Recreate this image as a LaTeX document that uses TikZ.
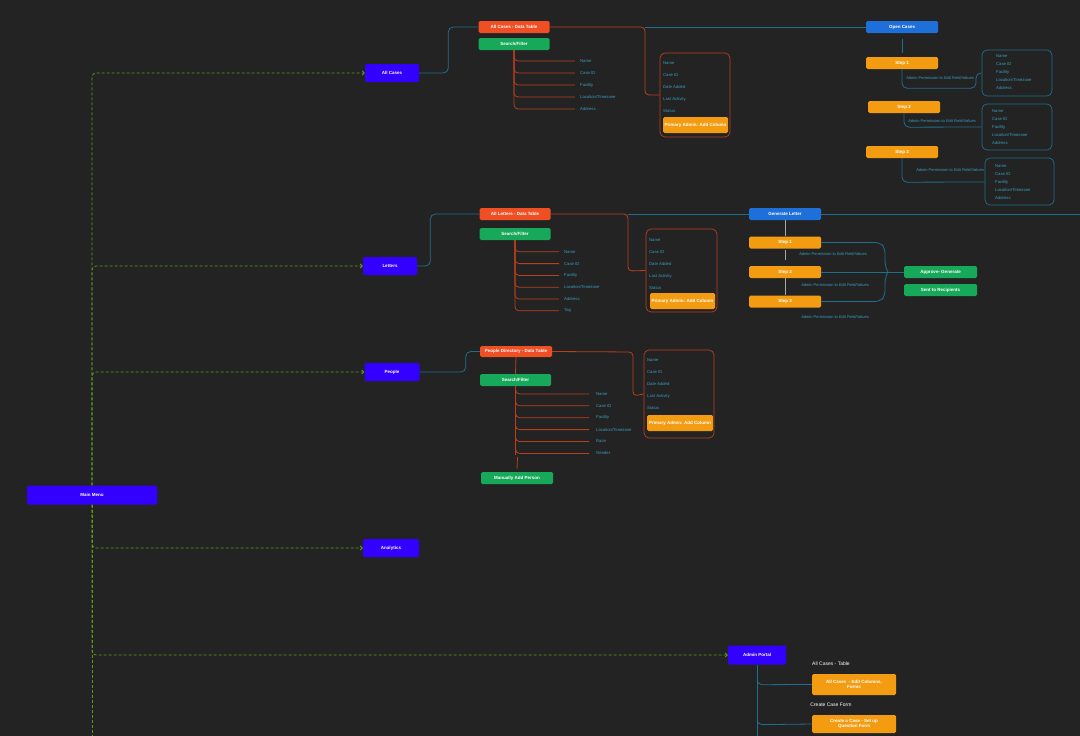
\documentclass[tikz,border=0pt]{standalone}
\usepackage{fontspec}
\setmainfont{Liberation Sans}
\usetikzlibrary{calc,arrows.meta}
\definecolor{bg}{HTML}{232323}
\definecolor{violet}{HTML}{3300FF}
\definecolor{redb}{HTML}{F04E23}
\definecolor{greenb}{HTML}{17A85A}
\definecolor{orangeb}{HTML}{F39C12}
\definecolor{blueb}{HTML}{1E6FD9}
\definecolor{teal}{HTML}{1F6F8B}
\definecolor{redl}{HTML}{B8401F}
\definecolor{itemc}{HTML}{3A9EC0}
\definecolor{gdash}{HTML}{5A9A20}
\tikzset{
 box/.style={rounded corners=1.5pt, inner sep=0pt, text=white, font=\fontsize{4.5}{5.5}\selectfont\bfseries, align=center},
 vbox/.style={box, fill=violet, minimum width=54, minimum height=18},
 rbox/.style={box, fill=redb, minimum width=71, minimum height=12},
 gbox/.style={box, fill=greenb, minimum width=71, minimum height=12},
 obox/.style={box, fill=orangeb, minimum width=72, minimum height=12},
 bbox/.style={box, fill=blueb, minimum width=72, minimum height=12},
 item/.style={text=itemc, font=\fontsize{4.2}{5}\selectfont, inner sep=0pt, anchor=west},
 lbl/.style={text=itemc, font=\fontsize{4}{5}\selectfont, inner sep=0pt},
 wlbl/.style={text=white, font=\fontsize{5}{6}\selectfont, inner sep=0pt},
 colbox/.style={draw=redl, rounded corners=5pt, line width=0.7pt},
 tbox/.style={draw=teal, rounded corners=5pt, line width=0.7pt},
 redline/.style={draw=redl, line width=0.8pt, rounded corners=4pt},
 tealline/.style={draw=teal, line width=0.8pt, rounded corners=5pt},
 gline/.style={draw=gdash, line width=0.8pt, dashed, dash pattern=on 3pt off 2pt, rounded corners=4pt},
}
\begin{document}
\begin{tikzpicture}[x=1pt,y=-1pt]
\fill[bg] (0,0) rectangle (1080,736);
\useasboundingbox (0,0) rectangle (1080,736);
% main menu
\node[vbox, minimum width=130, minimum height=19] (mm) at (92,495) {Main Menu};
\node[vbox] (ac) at (392,73) {All Cases};
\node[vbox] (lt) at (390,266) {Letters};
\node[vbox, minimum width=55] (pp) at (392,372) {People};
\node[vbox, minimum width=56] (an) at (391,548) {Analytics};
\node[vbox, minimum width=58, minimum height=19] (ap) at (757,655) {Admin Portal};
\coordinate (mmend) at (92,736);
\foreach \t in {ac,lt,pp}{\draw[gline,-{Straight Barb[length=2pt]}] (mm.north) |- (\t.west);}
\foreach \t in {an,ap}{\draw[gline,-{Straight Barb[length=2pt]}] (mm.south) |- (\t.west);}
\draw[gline] (mm.south) -- (mmend);

% ---- All cases
\node[rbox] (acdt) at (514,27) {All Cases - Data Table};
\node[gbox] (acsf) at (514,44) {Search/Filter};
\draw[tealline] (ac.east) -| ($(acdt.west)+(-30,0)$) -- (acdt.west);
\foreach \t [count=\i] in {Name,Case ID,Facility,Location/Timezone,Address}{
 \node[item] (acf\i) at (580,49+12*\i) {\t};
 \draw[redline] (acsf.south) |- ($(acf\i.west)+(-5,0)$);}
\node[colbox, minimum width=70, minimum height=84, inner sep=0pt] (acbox) at (695,95) {};
\foreach \t [count=\i] in {Name,Case ID,Date Added,Last Activity,Status}{
 \node[item] (acc\i) at (663,51+12*\i) {\t};}
\node[obox, minimum width=65, minimum height=16] (acadd) at (695.5,125) {Primary Admin: Add Column};
\coordinate (acsplit) at (645,27);
\draw[redline] (acdt.east) -- (acsplit) -- ($(acsplit)+(0,68)$) -- (acbox.west);
\node[bbox] (oc) at (902,27) {Open Cases};
\draw[tealline] (acsplit) -- (oc.west);
\node[obox] (os1) at (902,63) {Step 1};
\node[obox] (os2) at (904,107) {Step 2};
\node[obox] (os3) at (902,152) {Step 3};
\draw[teal, line width=0.8pt, shorten <=6pt, shorten >=4pt] (oc.south) -- (os1.north);
\node[tbox, minimum width=70, minimum height=46, inner sep=0pt] (ob1) at (1017,73) {};
\node[tbox, minimum width=70, minimum height=46, inner sep=0pt] (ob2) at (1017,127) {};
\node[tbox, minimum width=69, minimum height=47, inner sep=0pt] (ob3) at (1019.5,181.5) {};
\foreach \b/\x/\y in {1/996/56,2/992/111,3/995/166}{
 \foreach \t [count=\i] in {Name,Case ID,Facility,Location/Timezone,Address}{
  \node[item] (o\b i\i) at (\x,\y+8*\i-8) {\t};}}
\draw[tealline] (os1.south) -- ++(0,19) -- ++(74,0) |- (ob1.west);
\draw[tealline] (os2.south) -- ++(0,14) -- (ob2.west);
\draw[tealline] (os3.south) -- ++(0,24) -- ($(ob3.west)+(0,0.5)$);
\node[lbl] (ol1) at (940,78) {Admin Permission to Edit Field/Values};
\node[lbl] (ol2) at (942,121) {Admin Permission to Edit Field/Values};
\node[lbl] (ol3) at (950,170) {Admin Permission to Edit Field/Values};

% ---- Letters
\node[rbox] (ldt) at (515,214) {All Letters - Data Table};
\node[gbox] (lsf) at (515,234) {Search/Filter};
\draw[tealline] (lt.east) -| ($(ldt.west)+(-49,0)$) -- (ldt.west);
\foreach \t [count=\i] in {Name,Case ID,Facility,Location/Timezone,Address,Tag}{
 \node[item] (lf\i) at (564,240+11.8*\i) {\t};
 \draw[redline] (lsf.south) |- ($(lf\i.west)+(-5,0)$);}
\node[colbox, minimum width=71, minimum height=83, inner sep=0pt] (lbox) at (681.5,270.5) {};
\foreach \t [count=\i] in {Name,Case ID,Date Added,Last Activity,Status}{
 \node[item] (lc\i) at (649,228+12*\i) {\t};}
\node[obox, minimum width=65, minimum height=16] (ladd) at (682.5,301) {Primary Admin: Add Column};
\coordinate (lsplit) at (628,214);
\draw[redline] (ldt.east) -- (lsplit) -- ($(lsplit)+(0,57)$) -- (lbox.west);
\node[bbox] (gl) at (785,214) {Generate Letter};
\coordinate (lend) at (1080,214);
\draw[tealline] (lsplit) -- (gl.west);
\draw[tealline] (gl.east) -- (lend);
\node[obox] (ls1) at (785,242.5) {Step 1};
\node[obox] (ls2) at (785,272) {Step 2};
\node[obox] (ls3) at (785,301.5) {Step 3};
\draw[gray!70, line width=0.8pt] (gl.south) -- (ls1.north);
\draw[gray!70, line width=0.8pt, shorten <=1pt, shorten >=6pt] (ls1.south) -- (ls2.north);
\draw[gray!70, line width=1pt] (ls2.south) -- (ls3.north);
\node[lbl] (ll1) at (833,254) {Admin Permission to Edit Field/Values};
\node[lbl] (ll2) at (835,285) {Admin Permission to Edit Field/Values};
\node[lbl] (ll3) at (835,317) {Admin Permission to Edit Field/Values};
\node[gbox, minimum width=73] (apg) at (940.5,272) {Approve- Generate};
\node[gbox, minimum width=73] (str) at (940.5,290) {Sent to Recipients};
\coordinate (brace) at (888,272);
\draw[tealline] (ls1.east) -- (880,242.5) -- (885,248) -- (885,266) -- (brace);
\draw[tealline] (ls3.east) -- (880,301.5) -- (885,296) -- (885,278) -- (brace);
\draw[tealline] (ls2.east) -- (apg.west);

% ---- People
\node[rbox, minimum width=72, minimum height=11] (pdt) at (516,351.5) {People Directory - Data Table};
\node[gbox] (psf) at (515.5,380) {Search/Filter};
\draw[tealline] (pp.east) -| ($(pdt.west)+(-14,0)$) -- (pdt.west);
\draw[redl, line width=0.8pt] (pdt.south) -- (psf.north);
\foreach \t [count=\i] in {Name,Case ID,Facility,Location/Timezone,Race,Gender}{
 \node[item] (pf\i) at (596,382+11.9*\i) {\t};
 \draw[redline] (psf.south) |- ($(pf\i.west)+(-7,0)$);}
\node[gbox, minimum width=72] (mp) at (517,478) {Manually Add Person};
\draw[redl, line width=0.8pt] ($(psf.south)+(2,71)$) -- ($(mp.north)+(0,-3)$);
\draw[redl, line width=0.8pt] (psf.south) -- ($(psf.south)+(0,69)$);
\node[colbox, minimum width=70, minimum height=88, inner sep=0pt] (pbox) at (679,394) {};
\foreach \t [count=\i] in {Name,Case ID,Date Added,Last Activity,Status}{
 \node[item] (pc\i) at (647,348+12*\i) {\t};}
\node[obox, minimum width=66, minimum height=16] (padd) at (680,423) {Primary Admin: Add Column};
\coordinate (psplit) at (633,352);
\draw[redline] (pdt.east) -- (psplit) -- ($(psplit)+(0,44)$) -- (pbox.west);

% ---- Admin portal
\node[wlbl] (t1) at (831,664) {All Cases - Table};
\node[obox, minimum width=84, minimum height=21] (ae) at (854,684.5) {All Cases\ \ - Edit Columns,\\Forms};
\node[wlbl] (t2) at (831,705) {Create Case Form};
\node[obox, minimum width=84, minimum height=18] (acf) at (854,724) {Create a Case - Set up\\Question Form};
\coordinate (apend) at (757,736);
\draw[teal, line width=0.8pt] (ap.south) -- (apend);
\draw[tealline] ($(ap.south)+(0,15)$) -- ++(0,5) -- (ae.west);
\draw[tealline] ($(ap.south)+(0,55)$) -- ++(0,5) -- (acf.west);
\end{tikzpicture}
\end{document}
